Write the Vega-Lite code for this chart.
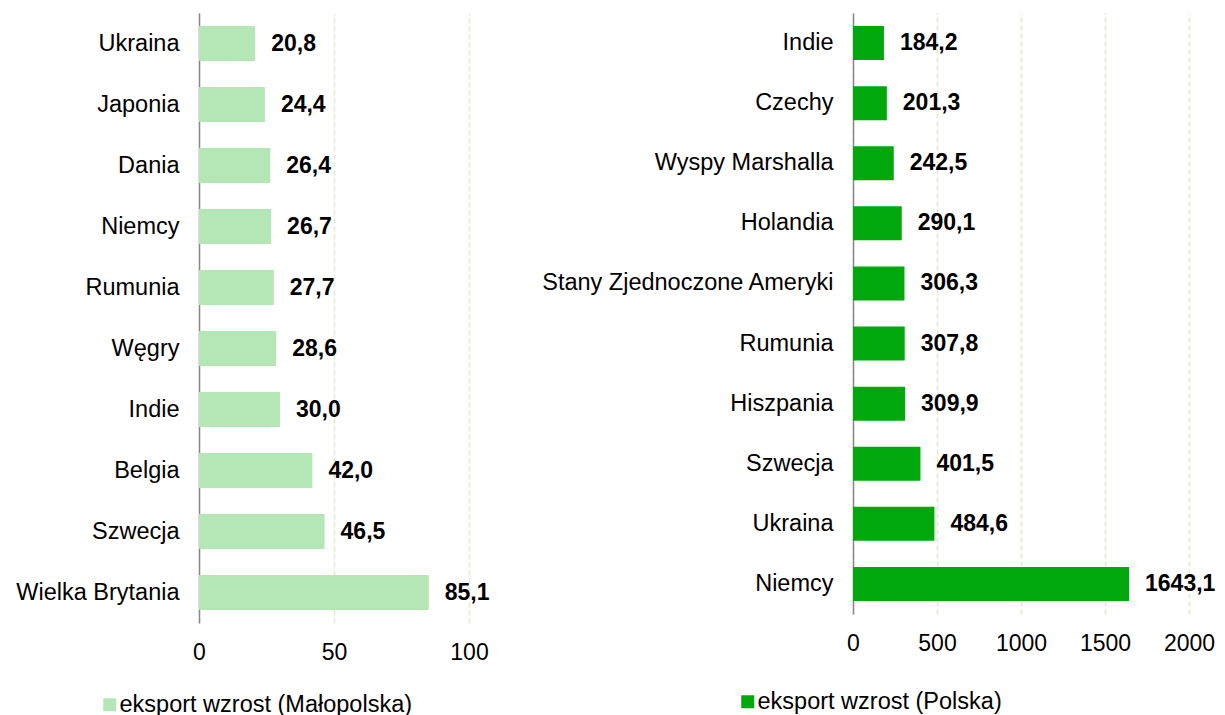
{
  "$schema": "https://vega.github.io/schema/vega-lite/v6.json",
  "background": "white",
  "padding": {"left": 15, "top": 13, "right": 5, "bottom": 0},
  "bounds": "flush",
  "spacing": 384,
  "config": {
    "font": "Liberation Sans",
    "view": {"stroke": null},
    "axisX": {"labelFontSize": 23, "labelColor": "#000000", "labelPadding": 18, "ticks": false, "domain": false, "grid": true, "gridColor": "#e3ebc5", "gridDash": [5, 3], "gridWidth": 1.5, "zindex": 1, "title": null, "labelFont": "Liberation Sans", "labelFlush": false, "labelOverlap": false, "format": "d"},
    "axisY": {"labelFontSize": 23.5, "labelColor": "#000000", "labelPadding": 20, "ticks": false, "grid": false, "domain": true, "domainColor": "#888888", "domainWidth": 1.5, "zindex": 2, "title": null, "labelLimit": 0, "labelFont": "Liberation Sans"},
    "legend": {"orient": "none", "title": null, "symbolType": "square", "symbolSize": 169, "symbolStrokeWidth": 0, "symbolOpacity": 1, "labelFontSize": 23.5, "labelOffset": -2, "padding": 0, "labelColor": "#000000", "labelLimit": 0, "labelFont": "Liberation Sans"}
  },
  "resolve": {"scale": {"color": "independent", "x": "independent", "y": "independent"}, "legend": {"color": "independent"}},
  "hconcat": [
    {
      "width": 270,
      "height": 610,
      "data": {"values": [
        {"kraj": "Ukraina", "v": 20.8},
        {"kraj": "Japonia", "v": 24.4},
        {"kraj": "Dania", "v": 26.4},
        {"kraj": "Niemcy", "v": 26.7},
        {"kraj": "Rumunia", "v": 27.7},
        {"kraj": "Węgry", "v": 28.6},
        {"kraj": "Indie", "v": 30.0},
        {"kraj": "Belgia", "v": 42.0},
        {"kraj": "Szwecja", "v": 46.5},
        {"kraj": "Wielka Brytania", "v": 85.1}
      ]},
      "transform": [{"calculate": "replace(format(datum.v, '.1f'), '.', ',')", "as": "lbl"}],
      "encoding": {
        "y": {"field": "kraj", "type": "nominal", "sort": "x", "scale": {"paddingInner": 0.43, "paddingOuter": 0.215}},
        "x": {"field": "v", "type": "quantitative", "scale": {"domain": [0, 100], "nice": false}, "axis": {"values": [0, 50, 100]}}
      },
      "layer": [
        {"mark": {"type": "bar"}, "encoding": {"color": {"datum": "eksport wzrost (Małopolska)", "type": "nominal", "scale": {"range": ["#b5e6b5"]}, "legend": {"legendX": -101, "legendY": 680}}}},
        {"mark": {"type": "text", "align": "left", "baseline": "middle", "dx": 16, "fontWeight": "bold", "fontSize": 23, "color": "#000000"}, "encoding": {"text": {"field": "lbl"}}}
      ]
    },
    {
      "width": 336,
      "height": 601,
      "data": {"values": [
        {"kraj": "Indie", "v": 184.2},
        {"kraj": "Czechy", "v": 201.3},
        {"kraj": "Wyspy Marshalla", "v": 242.5},
        {"kraj": "Holandia", "v": 290.1},
        {"kraj": "Stany Zjednoczone Ameryki", "v": 306.3},
        {"kraj": "Rumunia", "v": 307.8},
        {"kraj": "Hiszpania", "v": 309.9},
        {"kraj": "Szwecja", "v": 401.5},
        {"kraj": "Ukraina", "v": 484.6},
        {"kraj": "Niemcy", "v": 1643.1}
      ]},
      "transform": [{"calculate": "replace(format(datum.v, '.1f'), '.', ',')", "as": "lbl"}],
      "encoding": {
        "y": {"field": "kraj", "type": "nominal", "sort": "x", "scale": {"paddingInner": 0.434, "paddingOuter": 0.217}},
        "x": {"field": "v", "type": "quantitative", "scale": {"domain": [0, 2000], "nice": false}, "axis": {"values": [0, 500, 1000, 1500, 2000]}}
      },
      "layer": [
        {"mark": {"type": "bar"}, "encoding": {"color": {"datum": "eksport wzrost (Polska)", "type": "nominal", "scale": {"range": ["#00a80b"]}, "legend": {"legendX": -117, "legendY": 677}}}},
        {"mark": {"type": "text", "align": "left", "baseline": "middle", "dx": 16, "fontWeight": "bold", "fontSize": 23, "color": "#000000"}, "encoding": {"text": {"field": "lbl"}}}
      ]
    }
  ]
}
